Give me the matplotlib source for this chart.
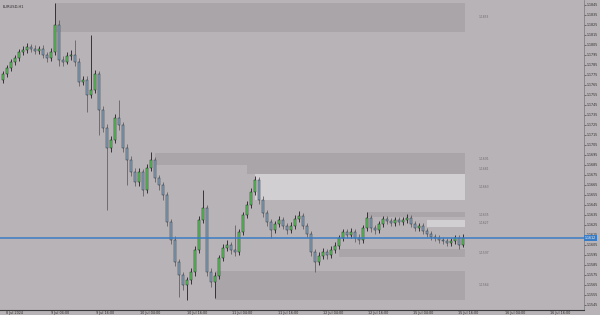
import matplotlib
matplotlib.use("Agg")
import matplotlib.pyplot as plt
from matplotlib.patches import Rectangle

# OHLC bars (first open, then closes / highs / lows)
first_open = 1.1770
closes = [1.1776, 1.1782, 1.1788, 1.1792, 1.1798, 1.1800, 1.1803, 1.1801, 1.1799, 1.1801,
          1.1795, 1.1792, 1.1798, 1.1825, 1.1790, 1.1788, 1.1794, 1.1795, 1.1788, 1.1768,
          1.1770, 1.1755, 1.1760, 1.1776, 1.1740, 1.1722, 1.1702, 1.1710, 1.1732, 1.1725,
          1.1702, 1.1690, 1.1678, 1.1668, 1.1678, 1.1660, 1.1682, 1.1690, 1.1672, 1.1665,
          1.1655, 1.1628, 1.1610, 1.1588, 1.1575, 1.1565, 1.1570, 1.1578, 1.1600, 1.1630,
          1.1642, 1.1578, 1.1568, 1.1574, 1.1592, 1.1602, 1.1605, 1.1600, 1.1598, 1.1618,
          1.1635, 1.1645, 1.1658, 1.1670, 1.1650, 1.1637, 1.1628, 1.1620, 1.1626, 1.1630,
          1.1624, 1.1620, 1.1624, 1.1631, 1.1634, 1.1624, 1.1616, 1.1598, 1.1588, 1.1594,
          1.1598, 1.1595, 1.1600, 1.1604, 1.1612, 1.1618, 1.1615, 1.1618, 1.1612, 1.1610,
          1.1622, 1.1632, 1.1622, 1.1620, 1.1626, 1.1631, 1.1629, 1.1627, 1.1630, 1.1628,
          1.1630, 1.1632, 1.1626, 1.1622, 1.1624, 1.1619, 1.1616, 1.1613, 1.1612, 1.1610,
          1.1609, 1.1607, 1.1609, 1.1612, 1.1605, 1.1612]
highs = [1.1779, 1.1785, 1.1791, 1.1795, 1.1801, 1.1804, 1.1807, 1.1806, 1.1805, 1.1804,
         1.1805, 1.1798, 1.1802, 1.1847, 1.1830, 1.1794, 1.1798, 1.1800, 1.1810, 1.1792,
         1.1774, 1.1774, 1.1815, 1.1780, 1.1779, 1.1744, 1.1726, 1.1714, 1.1736, 1.1750,
         1.1728, 1.1706, 1.1694, 1.1682, 1.1682, 1.1681, 1.1686, 1.1698, 1.1693, 1.1675,
         1.1668, 1.1658, 1.1631, 1.1614, 1.1591, 1.1578, 1.1573, 1.1582, 1.1604, 1.1634,
         1.1660, 1.1645, 1.1582, 1.1578, 1.1595, 1.1606, 1.1610, 1.1608, 1.1625, 1.1621,
         1.1638, 1.1649, 1.1662, 1.1674, 1.1673, 1.1654, 1.1640, 1.1631, 1.1629, 1.1634,
         1.1633, 1.1627, 1.1628, 1.1635, 1.1639, 1.1637, 1.1627, 1.1619, 1.1601, 1.1598,
         1.1602, 1.1601, 1.1604, 1.1608, 1.1615, 1.1621, 1.1621, 1.1622, 1.1621, 1.1616,
         1.1625, 1.1638, 1.1635, 1.1625, 1.1629, 1.1634, 1.1634, 1.1632, 1.1633, 1.1633,
         1.1633, 1.1636, 1.1635, 1.1629, 1.1627, 1.1627, 1.1622, 1.1619, 1.1616, 1.1615,
         1.1613, 1.1612, 1.1612, 1.1615, 1.1615, 1.1616]
lows = [1.1767, 1.1773, 1.1779, 1.1785, 1.1789, 1.1795, 1.1797, 1.1798, 1.1796, 1.1796,
        1.1792, 1.1788, 1.1789, 1.1795, 1.1784, 1.1784, 1.1786, 1.1790, 1.1784, 1.1764,
        1.1765, 1.1738, 1.1752, 1.1757, 1.1715, 1.1718, 1.1640, 1.1698, 1.1707, 1.1720,
        1.1698, 1.1665, 1.1674, 1.1664, 1.1664, 1.1654, 1.1657, 1.1679, 1.1668, 1.1660,
        1.1650, 1.1624, 1.1606, 1.1584, 1.1553, 1.1560, 1.1550, 1.1566, 1.1574, 1.1597,
        1.1627, 1.1574, 1.1563, 1.1552, 1.1571, 1.1589, 1.1599, 1.1596, 1.1594, 1.1595,
        1.1615, 1.1632, 1.1642, 1.1655, 1.1646, 1.1633, 1.1624, 1.1612, 1.1617, 1.1623,
        1.1621, 1.1616, 1.1617, 1.1621, 1.1628, 1.1621, 1.1613, 1.1594, 1.1578, 1.1585,
        1.1591, 1.1591, 1.1592, 1.1597, 1.1601, 1.1609, 1.1612, 1.1612, 1.1608, 1.1606,
        1.1607, 1.1619, 1.1618, 1.1616, 1.1617, 1.1623, 1.1626, 1.1624, 1.1624, 1.1625,
        1.1625, 1.1627, 1.1623, 1.1619, 1.1619, 1.1616, 1.1613, 1.1610, 1.1609, 1.1607,
        1.1606, 1.1604, 1.1604, 1.1606, 1.1601, 1.1603]

# supply / demand zones: start bar, top price, bottom price, kind
zone_start = [13, 38, 61, 63, 91, 106, 84, 53]
zone_top = [1.1847, 1.1697, 1.1685, 1.1676, 1.1638, 1.1630, 1.1601, 1.1579]
zone_bottom = [1.1818, 1.1685, 1.1676, 1.1650, 1.1633, 1.1623, 1.1593, 1.1550]
zone_kind = ["dark", "dark", "dark", "light", "dark", "light", "dark", "dark"]
zone_end = 115.5

time_labels = ["8 Jul 2024", "9 Jul 04:00", "9 Jul 16:00", "10 Jul 04:00", "10 Jul 16:00",
               "11 Jul 04:00", "11 Jul 16:00", "12 Jul 04:00", "12 Jul 16:00", "15 Jul 04:00",
               "15 Jul 16:00", "16 Jul 04:00", "16 Jul 16:00"]
time_positions = [3, 14.25, 25.5, 36.75, 48.5, 59.75, 71.25, 82.5, 93.75, 105, 116.25, 128, 139.25]

symbol = "EURUSD,H1"
last_price = closes[-1]

bg = "#b8b3b6"
zone_colors = {"dark": "#a9a5a8", "light": "#d2cfd2"}

fig = plt.figure(figsize=(6, 3.15), dpi=100, facecolor=bg)
ax = fig.add_axes([0, 5 / 315, 584 / 600, 310 / 315], facecolor=bg)
x_right = (584 - 3) / 4

# zones
for s, t, b, k in zip(zone_start, zone_top, zone_bottom, zone_kind):
    ax.add_patch(Rectangle((s, b), zone_end - s, t - b, facecolor=zone_colors[k],
                           edgecolor="none", zorder=1))
    ax.text(zone_end + 3.5, (t + b) / 2, f"{(t + b) / 2:.4f}", fontsize=2.2,
            color="#6e6a6d", va="center", ha="left", zorder=2)

# candles
opens = [first_open] + closes[:-1]
for i, (o, h, l, c) in enumerate(zip(opens, highs, lows, closes)):
    bull = c >= o
    ax.vlines(i, l, h, color="#1c2228" if bull else "#4f667c", lw=0.6, zorder=3)
    ax.add_patch(Rectangle((i - 0.32, min(o, c)), 0.64, max(abs(c - o), 0.00004),
                           facecolor="#62d062" if bull else "#8da6bd",
                           edgecolor="#14231a" if bull else "#26323c",
                           lw=0.35, zorder=4))

# current price line
ax.axhline(last_price, color="#3a7cc4", lw=1.1, zorder=5)
ax.text(x_right + 0.2, last_price, f"{last_price:.4f}", fontsize=2.3, color="white",
        va="center", ha="left", zorder=6, clip_on=False,
        bbox=dict(boxstyle="square,pad=0.2", fc="#3a7cc4", ec="none"))

ax.set_xlim(-0.75, x_right)
ax.set_ylim(1.1540, 1.1850)

ax.yaxis.tick_right()
yt = [1.1545 + 0.0010 * k for k in range(31)]
ax.set_yticks(yt)
ax.set_yticklabels([f"{v:.4f}" for v in yt])
ax.tick_params(axis="y", labelsize=2.3, length=1.2, width=0.4, pad=0.5,
               colors="#2a2a2a")
ax.set_xticks(time_positions)
ax.set_xticklabels(time_labels)
ax.tick_params(axis="x", labelsize=2.4, length=0, pad=0.8, colors="#2a2a2a")

for side in ["top", "left"]:
    ax.spines[side].set_visible(False)
ax.spines["bottom"].set_color("#3a3a3a")
ax.spines["bottom"].set_linewidth(0.8)
ax.spines["right"].set_color("#7a777a")
ax.spines["right"].set_linewidth(0.5)

ax.text(0.005, 0.985, symbol, transform=ax.transAxes, fontsize=2.6,
        color="#2a2a2a", va="top", ha="left")

fig.savefig("out.png", dpi=100, facecolor=bg)
